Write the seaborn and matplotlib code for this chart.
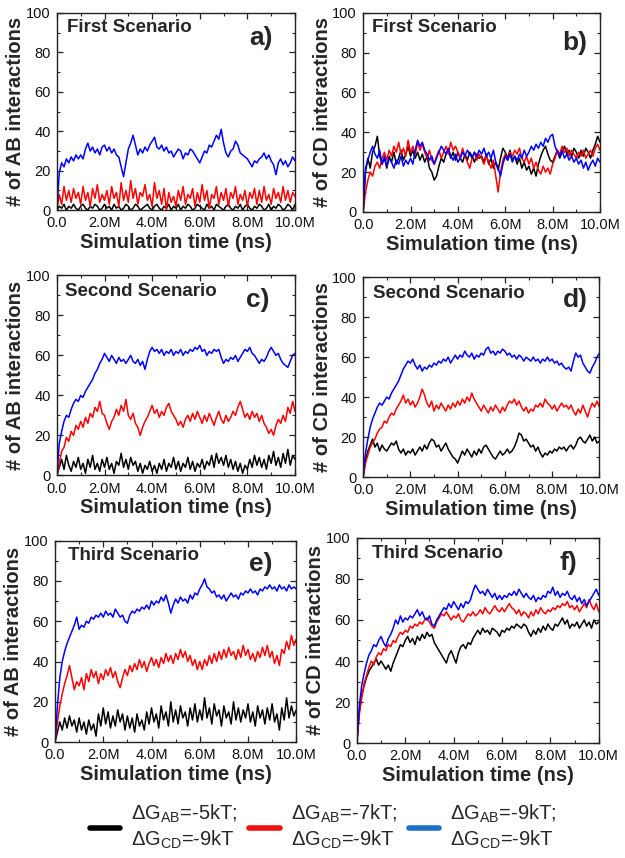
import numpy as np
import pandas as pd
import matplotlib
matplotlib.use('Agg')
import matplotlib.pyplot as plt
from matplotlib.lines import Line2D
from matplotlib.ticker import MultipleLocator
import seaborn as sns

# simulation time samples (every 0.1M ns)
time_ns = np.linspace(0, 10e6, 101)

# ---- panel a: AB interactions, first scenario
a_black = [0, 2, 1, 3, 0, 2, 1, 3, 1, 0, 2, 3, 1, 0, 2, 1, 3, 2, 0, 1,
           3, 1, 2, 0, 3, 1, 2, 0, 1, 3, 2, 0, 1, 3, 2, 0, 1, 2, 3, 1,
           0, 2, 3, 1, 0, 2, 1, 3, 0, 2, 1, 3, 0, 2, 1, 3, 2, 0, 1, 3,
           2, 1, 0, 3, 1, 2, 0, 3, 2, 1, 0, 2, 3, 1, 0, 2, 1, 3, 0, 2,
           3, 1, 0, 2, 1, 3, 2, 0, 1, 3, 0, 2, 1, 3, 2, 0, 1, 3, 2, 0, 3]
a_red = [0, 8, 3, 12, 5, 10, 4, 11, 6, 9, 3, 12, 5, 9, 2, 11, 6, 13, 4, 8,
         5, 10, 3, 12, 6, 9, 2, 14, 5, 10, 4, 15, 6, 11, 3, 9, 7, 13, 5, 8,
         2, 14, 6, 10, 3, 11, 0, 9, 4, 7, 2, 10, 5, 12, 3, 8, 6, 11, 2, 9,
         4, 13, 5, 10, 1, 8, 6, 12, 3, 9, 5, 11, 2, 9, 6, 12, 3, 8, 5, 10,
         2, 9, 6, 11, 3, 10, 4, 12, 5, 8, 3, 11, 6, 9, 4, 12, 5, 10, 4, 9, 7]
a_blue = [0, 19, 24, 22, 26, 24, 27, 25, 28, 26, 28, 26, 31, 34, 30, 32, 29, 31, 28, 32,
          33, 30, 32, 29, 31, 28, 27, 22, 17, 24, 31, 34, 38, 33, 28, 31, 29, 32, 30, 33,
          35, 37, 32, 31, 33, 30, 32, 29, 30, 27, 29, 31, 30, 26, 29, 28, 31, 30, 28, 26,
          24, 27, 30, 29, 33, 32, 35, 38, 36, 41, 34, 29, 27, 30, 31, 35, 33, 29, 28, 27,
          26, 24, 22, 25, 24, 26, 27, 29, 26, 28, 25, 23, 18, 24, 26, 23, 25, 22, 24, 27, 25]

# ---- panel b: CD interactions, first scenario
b_black = [0, 20, 27, 22, 30, 33, 38, 28, 24, 27, 22, 28, 25, 30, 24, 27, 31, 26, 29, 33,
           28, 31, 27, 30, 26, 29, 25, 28, 22, 20, 16, 18, 23, 27, 25, 29, 31, 27, 30, 26,
           30, 27, 25, 29, 26, 30, 28, 25, 29, 27, 28, 25, 29, 24, 27, 22, 25, 21, 27, 32,
           30, 27, 31, 26, 28, 24, 27, 22, 25, 21, 23, 19, 22, 18, 24, 28, 31, 33, 29, 26,
           25, 28, 31, 27, 30, 33, 29, 31, 28, 32, 30, 27, 31, 28, 32, 30, 27, 31, 34, 38, 35]
b_red = [0, 10, 16, 20, 18, 23, 25, 22, 27, 30, 26, 31, 28, 33, 30, 35, 29, 32, 28, 36,
         30, 33, 29, 35, 31, 34, 30, 27, 31, 26, 24, 28, 31, 27, 30, 33, 29, 35, 31, 33,
         30, 27, 32, 28, 25, 22, 27, 30, 26, 29, 27, 24, 28, 25, 22, 26, 18, 10, 20, 26,
         29, 26, 30, 28, 31, 29, 32, 27, 25, 28, 24, 27, 22, 25, 21, 19, 23, 20, 22, 19,
         24, 27, 31, 29, 33, 30, 32, 28, 31, 29, 27, 30, 28, 31, 27, 29, 31, 28, 32, 34, 31]
b_blue = [0, 22, 26, 30, 33, 29, 27, 31, 24, 28, 23, 27, 25, 22, 26, 24, 28, 23, 26, 24,
          27, 24, 31, 36, 33, 35, 31, 29, 26, 28, 24, 27, 30, 33, 31, 29, 32, 28, 26, 29,
          25, 27, 30, 28, 31, 29, 27, 30, 28, 31, 29, 32, 28, 30, 27, 31, 25, 22, 18, 24,
          28, 26, 29, 25, 28, 26, 29, 27, 31, 28, 30, 33, 31, 34, 32, 35, 33, 37, 35, 38,
          39, 33, 30, 28, 31, 27, 29, 26, 28, 25, 27, 24, 26, 22, 25, 21, 24, 26, 23, 27, 25]

# ---- panel c: AB interactions, second scenario
c_black = [0, 4, 8, 3, 10, 5, 2, 7, 4, 9, 3, 6, 1, 8, 4, 10, 3, 6, 2, 8,
           4, 9, 3, 6, 1, 7, 5, 11, 4, 8, 3, 9, 5, 7, 2, 6, 1, 5, 3, 7,
           2, 5, 1, 6, 3, 8, 2, 6, 4, 9, 3, 7, 2, 6, 4, 9, 3, 7, 2, 6,
           4, 8, 3, 7, 5, 10, 4, 11, 6, 9, 5, 10, 4, 8, 3, 7, 2, 6, 1, 5,
           3, 8, 4, 10, 5, 9, 4, 8, 3, 10, 6, 12, 5, 9, 4, 11, 6, 13, 5, 10, 8]
c_red = [0, 6, 12, 14, 19, 17, 22, 20, 25, 23, 27, 24, 29, 26, 31, 29, 34, 32, 37, 31,
         30, 26, 23, 27, 29, 33, 30, 35, 32, 38, 30, 28, 31, 26, 24, 20, 24, 27, 29, 32,
         35, 31, 33, 29, 32, 30, 34, 36, 32, 30, 28, 25, 27, 24, 28, 30, 27, 31, 28, 32,
         29, 26, 30, 27, 31, 28, 25, 29, 32, 28, 26, 30, 27, 29, 32, 30, 34, 37, 33, 29,
         31, 28, 32, 29, 31, 27, 30, 26, 24, 21, 23, 20, 25, 28, 26, 30, 27, 34, 31, 37, 32]
c_blue = [0, 16, 22, 27, 30, 29, 33, 36, 38, 37, 40, 39, 42, 44, 46, 48, 51, 53, 56, 58,
          61, 59, 57, 60, 58, 56, 59, 57, 58, 56, 58, 60, 57, 56, 58, 55, 57, 53, 58, 62,
          64, 62, 63, 61, 63, 60, 62, 61, 63, 60, 62, 61, 63, 60, 62, 61, 63, 62, 64, 63,
          65, 62, 63, 60, 62, 61, 63, 62, 63, 59, 56, 58, 57, 59, 58, 60, 57, 59, 61, 63,
          62, 64, 61, 60, 58, 56, 58, 57, 59, 62, 64, 62, 60, 61, 58, 56, 55, 54, 57, 60, 61]

# ---- panel d: CD interactions, second scenario
d_black = [0, 8, 13, 16, 19, 15, 17, 13, 16, 14, 13, 15, 17, 16, 18, 14, 12, 14, 11, 13,
           12, 14, 11, 13, 15, 13, 16, 14, 17, 19, 18, 15, 16, 13, 15, 17, 14, 12, 10, 9,
           7, 10, 13, 11, 14, 12, 10, 13, 11, 14, 12, 15, 16, 14, 12, 10, 9, 11, 13, 11,
           12, 14, 12, 13, 15, 18, 22, 21, 18, 19, 17, 15, 16, 13, 15, 12, 10, 12, 11, 13,
           12, 14, 13, 15, 14, 15, 13, 15, 16, 14, 16, 19, 20, 18, 17, 19, 21, 18, 20, 17, 18]
d_red = [0, 7, 11, 15, 17, 19, 22, 24, 25, 28, 27, 30, 32, 31, 34, 36, 38, 41, 37, 39,
         36, 38, 35, 37, 40, 44, 41, 37, 35, 38, 33, 36, 34, 37, 35, 33, 36, 34, 37, 35,
         38, 36, 39, 37, 40, 38, 42, 39, 37, 35, 33, 36, 34, 32, 35, 33, 36, 34, 32, 35,
         33, 36, 38, 37, 39, 36, 38, 35, 33, 35, 32, 34, 33, 36, 35, 37, 35, 39, 37, 36,
         34, 36, 33, 35, 37, 35, 36, 34, 36, 33, 31, 34, 32, 36, 33, 30, 34, 37, 35, 38, 35]
d_blue = [0, 12, 19, 25, 29, 32, 35, 37, 36, 38, 40, 39, 42, 44, 46, 48, 51, 54, 56, 58,
          57, 59, 56, 54, 56, 53, 55, 54, 56, 55, 57, 56, 58, 57, 59, 58, 60, 57, 59, 61,
          59, 61, 60, 63, 61, 60, 62, 59, 61, 60, 62, 61, 64, 65, 62, 63, 61, 63, 62, 64,
          63, 61, 62, 60, 61, 59, 61, 60, 58, 60, 59, 58, 60, 58, 59, 57, 59, 58, 60, 58,
          59, 57, 58, 56, 57, 55, 54, 55, 53, 58, 62, 60, 61, 57, 55, 53, 52, 55, 57, 60, 62]

# ---- panel e: AB interactions, third scenario
e_black = [0, 5, 10, 6, 12, 7, 13, 8, 11, 5, 12, 6, 10, 4, 11, 6, 9, 3, 14, 8,
           17, 9, 15, 7, 13, 8, 16, 10, 14, 6, 13, 7, 12, 5, 14, 8, 11, 6, 15, 9,
           17, 10, 14, 7, 18, 11, 15, 8, 20, 10, 16, 9, 18, 12, 15, 8, 17, 11, 19, 10,
           16, 11, 22, 12, 17, 9, 19, 13, 16, 8, 18, 12, 15, 9, 20, 11, 17, 10, 16, 12,
           19, 10, 15, 8, 18, 12, 16, 9, 17, 11, 19, 10, 14, 6, 17, 11, 22, 12, 18, 13, 16]
e_red = [0, 10, 18, 24, 29, 33, 38, 32, 26, 30, 28, 32, 26, 34, 30, 36, 32, 35, 29, 34,
         31, 36, 33, 37, 32, 35, 30, 27, 32, 36, 33, 38, 35, 39, 36, 41, 37, 40, 35, 39,
         42, 38, 41, 37, 42, 39, 44, 40, 43, 39, 44, 41, 46, 42, 45, 40, 43, 38, 41, 36,
         40, 36, 41, 38, 43, 39, 44, 40, 45, 41, 46, 42, 47, 43, 45, 41, 46, 42, 48, 43,
         46, 41, 44, 40, 45, 42, 47, 43, 48, 42, 45, 39, 43, 38, 46, 44, 50, 46, 53, 48, 51]
e_blue = [0, 18, 32, 40, 45, 49, 52, 55, 58, 62, 56, 58, 57, 60, 59, 62, 61, 63, 62, 64,
          62, 65, 63, 64, 62, 66, 64, 62, 63, 60, 59, 63, 65, 64, 66, 65, 67, 66, 68, 66,
          70, 68, 70, 69, 72, 70, 73, 69, 64, 68, 71, 69, 72, 70, 71, 69, 73, 71, 74, 73,
          76, 78, 81, 77, 76, 74, 75, 72, 73, 71, 73, 70, 72, 74, 72, 73, 71, 74, 73, 75,
          74, 76, 74, 75, 73, 76, 75, 77, 76, 78, 76, 77, 75, 78, 76, 77, 75, 78, 76, 77, 76]

# ---- panel f: CD interactions, third scenario
f_black = [0, 15, 23, 28, 32, 35, 37, 39, 41, 38, 40, 38, 36, 38, 35, 39, 42, 45, 48, 47,
           50, 52, 49, 51, 48, 52, 50, 53, 51, 54, 52, 53, 49, 47, 45, 43, 41, 39, 43, 45,
           42, 39, 44, 47, 48, 46, 49, 48, 51, 53, 55, 53, 56, 54, 55, 53, 56, 55, 54, 52,
           55, 54, 56, 55, 57, 56, 58, 57, 56, 58, 57, 54, 52, 55, 53, 56, 54, 57, 55, 58,
           56, 55, 58, 57, 59, 61, 58, 60, 56, 58, 57, 59, 56, 58, 60, 57, 59, 56, 60, 58, 59]
f_red = [0, 14, 22, 29, 33, 37, 40, 38, 42, 44, 43, 46, 45, 48, 47, 50, 49, 52, 54, 53,
         55, 54, 57, 56, 58, 57, 59, 58, 60, 61, 59, 57, 56, 59, 61, 63, 62, 64, 62, 60,
         62, 61, 63, 60, 59, 61, 63, 62, 64, 62, 63, 65, 63, 66, 64, 63, 65, 67, 65, 64,
         66, 64, 66, 68, 66, 65, 63, 65, 62, 64, 63, 61, 64, 62, 65, 63, 66, 64, 63, 65,
         64, 66, 65, 67, 66, 68, 67, 69, 66, 67, 65, 67, 64, 66, 68, 66, 70, 67, 65, 68, 64]
f_blue = [0, 18, 28, 34, 39, 43, 45, 48, 47, 50, 52, 49, 47, 51, 53, 56, 60, 58, 62, 59,
          61, 60, 62, 61, 63, 65, 62, 64, 61, 60, 62, 58, 57, 60, 62, 64, 66, 65, 68, 66,
          69, 67, 65, 68, 66, 69, 68, 70, 74, 77, 75, 73, 74, 72, 75, 73, 71, 73, 70, 72,
          70, 72, 71, 73, 72, 74, 72, 75, 73, 71, 73, 71, 70, 72, 69, 71, 70, 72, 71, 74,
          73, 76, 72, 74, 71, 73, 72, 74, 71, 70, 72, 69, 71, 68, 70, 67, 69, 71, 73, 75, 72]

panels = [
    ('First Scenario', 'a)', '# of AB interactions', [a_black, a_red, a_blue]),
    ('First Scenario', 'b)', '# of CD interactions', [b_black, b_red, b_blue]),
    ('Second Scenario', 'c)', '# of AB interactions', [c_black, c_red, c_blue]),
    ('Second Scenario', 'd)', '# of CD interactions', [d_black, d_red, d_blue]),
    ('Third Scenario', 'e)', '# of AB interactions', [e_black, e_red, e_blue]),
    ('Third Scenario', 'f)', '# of CD interactions', [f_black, f_red, f_blue]),
]
line_colors = ['#000000', '#ff0000', '#0000ff']
legend_colors = ['#000000', '#ee1111', '#1f6fc4']
legend_labels = [
    'ΔG$_{\\mathregular{AB}}$=-5kT;\nΔG$_{\\mathregular{CD}}$=-9kT',
    'ΔG$_{\\mathregular{AB}}$=-7kT;\nΔG$_{\\mathregular{CD}}$=-9kT',
    'ΔG$_{\\mathregular{AB}}$=-9kT;\nΔG$_{\\mathregular{CD}}$=-9kT',
]
x_tick_labels = ['0.0', '2.0M', '4.0M', '6.0M', '8.0M', '10.0M']

# axes boxes [left, bottom, width, height] in figure fraction
boxes = [
    [0.091, 0.755, 0.381, 0.230],
    [0.581, 0.753, 0.379, 0.232],
    [0.091, 0.446, 0.381, 0.233],
    [0.581, 0.444, 0.378, 0.233],
    [0.088, 0.135, 0.386, 0.235],
    [0.571, 0.134, 0.387, 0.239],
]
# text positions (axes fraction): scenario label x, y; letter right x, y
text_pos = [
    (0.042, 0.924, 0.908, 0.873),
    (0.038, 0.924, 0.945, 0.850),
    (0.034, 0.920, 0.895, 0.875),
    (0.042, 0.920, 0.950, 0.885),
    (0.054, 0.926, 0.900, 0.886),
    (0.062, 0.926, 0.910, 0.878),
]

sns.set_style('ticks')
plt.rcParams['font.family'] = ['Liberation Sans', 'DejaVu Sans']
plt.rcParams['mathtext.fontset'] = 'custom'
plt.rcParams['mathtext.rm'] = 'Liberation Sans'

fig = plt.figure(figsize=(6.25, 8.58), dpi=100)

for (scen, letter, ylab, series), box, tp in zip(panels, boxes, text_pos):
    ax = fig.add_axes(box)
    for vals, col in zip(series, line_colors):
        sns.lineplot(x=time_ns, y=vals, color=col, linewidth=1.1,
                     estimator=None, ax=ax)
    ax.set_xlim(0, 10e6)
    ax.set_ylim(0, 100)
    ax.set_xticks(np.arange(0, 10.1e6, 2e6))
    ax.set_xticklabels(x_tick_labels)
    ax.xaxis.set_minor_locator(MultipleLocator(1e6))
    ax.set_yticks(range(0, 101, 20))
    ax.yaxis.set_minor_locator(MultipleLocator(10))
    ax.tick_params(which='both', direction='in', top=True, right=True,
                   labelsize=10.5, colors='#222222', labelcolor='#111111')
    ax.tick_params(which='major', length=4, width=0.9, pad=4.5)
    ax.tick_params(which='minor', length=2.5, width=0.8)
    for sp in ax.spines.values():
        sp.set_linewidth(1.0)
        sp.set_color('#222222')
    ax.set_xlabel('Simulation time (ns)', fontsize=14.5, fontweight='bold', labelpad=2)
    ax.set_ylabel(ylab, fontsize=14.5, fontweight='bold', labelpad=0.5)
    ax.text(tp[0], tp[1], scen, transform=ax.transAxes, fontsize=13.5,
            fontweight='bold', ha='left', va='center')
    ax.text(tp[2], tp[3], letter, transform=ax.transAxes, fontsize=19,
            fontweight='bold', ha='right', va='center')

handles = [Line2D([0], [0], color=c, linewidth=4) for c in legend_colors]
fig.legend(handles, legend_labels, loc='center', bbox_to_anchor=(0.517, 0.036),
           ncol=3, frameon=False, fontsize=14.5, handlelength=1.5,
           handletextpad=0.55, columnspacing=0.6, labelspacing=0.2,
           borderaxespad=0, borderpad=0)

fig.savefig('out.png', dpi=100)
